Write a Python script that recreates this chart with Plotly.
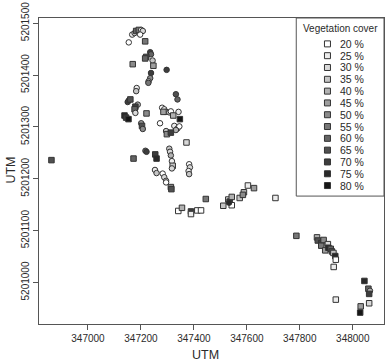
import plotly.graph_objects as go

# ---- data ----
easting = [346862, 347154, 347167, 347176, 347182, 347192, 347201, 347207, 347197, 347216,
           347169, 347235, 347238, 347220, 347216, 347244, 347247, 347238, 347235, 347229,
           347228, 347297, 347184, 347182, 347154, 347150, 347160, 347188, 347179, 347176,
           347179, 347138, 347144, 347153, 347221, 347201, 347204, 347207, 347272, 347280,
           347288, 347295, 347307, 347313, 347322, 347285, 347332, 347338, 347342, 347347,
           347326, 347338, 347345, 347332, 347295, 347298, 347313, 347372, 347217, 347221,
           347172, 347254, 347259, 347307, 347310, 347313, 347317, 347320, 347317, 347253,
           347259, 347282, 347288, 347295, 347382, 347385, 347380, 347382, 347295, 347313,
           347315, 347341, 347355, 347389, 347389, 347413, 347427, 347445, 347511, 347530,
           347535, 347543, 347543, 347533, 347573, 347589, 347585, 347604, 347627, 347708,
           347787, 347865, 347868, 347881, 347881, 347890, 347896, 347906, 347908, 347917,
           347921, 347927, 347934, 347936, 347928, 347936, 348044, 348059, 348065, 348062,
           348062, 348030, 348028]
northing = [5201236, 5201463, 5201478, 5201481, 5201485, 5201487, 5201487, 5201485, 5201478, 5201465,
            5201421, 5201444, 5201440, 5201435, 5201432, 5201428, 5201418, 5201404, 5201394, 5201388,
            5201385, 5201410, 5201375, 5201369, 5201351, 5201348, 5201353, 5201343, 5201339, 5201334,
            5201327, 5201322, 5201318, 5201315, 5201326, 5201307, 5201302, 5201296, 5201307, 5201337,
            5201334, 5201329, 5201328, 5201330, 5201322, 5201329, 5201363, 5201353, 5201329, 5201315,
            5201302, 5201297, 5201301, 5201294, 5201292, 5201286, 5201289, 5201270, 5201254, 5201252,
            5201239, 5201247, 5201239, 5201258, 5201252, 5201245, 5201234, 5201225, 5201220, 5201217,
            5201211, 5201210, 5201203, 5201196, 5201228, 5201222, 5201215, 5201209, 5201193, 5201184,
            5201180, 5201138, 5201144, 5201137, 5201132, 5201139, 5201139, 5201161, 5201148, 5201160,
            5201156, 5201165, 5201149, 5201154, 5201163, 5201174, 5201169, 5201187, 5201182, 5201163,
            5201090, 5201087, 5201081, 5201076, 5201071, 5201082, 5201062, 5201074, 5201067, 5201065,
            5201060, 5201057, 5201051, 5201044, 5201030, 5200967, 5201003, 5200988, 5200984, 5200978,
            5200960, 5200954, 5200942]
cover = [65, 20, 25, 30, 60, 55, 25, 30, 20, 55,
         50, 70, 60, 65, 60, 35, 45, 70, 50, 40,
         55, 70, 25, 35, 75, 70, 65, 40, 70, 60,
         30, 75, 70, 80, 50, 45, 65, 50, 20, 20,
         25, 30, 35, 20, 40, 45, 65, 60, 25, 80,
         25, 30, 20, 40, 35, 50, 70, 30, 55, 70,
         60, 70, 75, 35, 30, 40, 25, 35, 30, 25,
         35, 20, 30, 25, 20, 30, 25, 35, 20, 50,
         65, 20, 40, 70, 25, 20, 20, 55, 35, 30,
         70, 40, 20, 75, 35, 40, 50, 25, 45, 25,
         55, 40, 65, 70, 55, 50, 45, 30, 75, 60,
         65, 35, 75, 20, 25, 25, 75, 60, 40, 70,
         30, 45, 80]
# survey type: "A" plotted as circle, "B" as square
survey = list("BAAABBAAAB"
              "BAABBABAAA"
              "AAAAAABABB"
              "ABBBBABAAA"
              "AAAABBAAAB"
              "AAAAABBBAA"
              "BBBAAAABAA"
              "AAAAAAAAAB"
              "BBBBBBBBBB"
              "BBBABBBBBB"
              "BBBBBBBBBB"
              "BBBBBBBBAB"
              "BBB")
cover_levels = [20, 25, 30, 35, 40, 45, 50, 55, 60, 65, 70, 75, 80]
legend_title = "Vegetation cover"
x_title = "UTM"
y_title = "UTM"
x_ticks = [347000, 347200, 347400, 347600, 347800, 348000]
y_ticks = [5201000, 5201100, 5201200, 5201300, 5201400, 5201500]

# ---- styling helpers ----
def gray_for(level):
    i = cover_levels.index(level)
    v = round(255 - i * (255 - 22) / (len(cover_levels) - 1))
    return f"rgb({v},{v},{v})"

symbol_map = {"A": "circle", "B": "square"}
FONT = "Liberation Sans, Arial, sans-serif"
TXT = "#2a2a2a"
LINE = "#555555"

W, H = 387, 362
L, R, T, B = 39, 385, 13, 324  # plot area in pixels


def px_to_paper(px):
    return (px - L) / (R - L)


def py_to_paper(py):
    return (B - py) / (B - T)


fig = go.Figure()
fig.add_trace(go.Scatter(
    x=easting, y=northing, mode="markers", showlegend=False, hoverinfo="skip",
    marker=dict(size=5.5, symbol=[symbol_map[s] for s in survey],
                color=[gray_for(c) for c in cover],
                line=dict(color="#333333", width=1)),
))

# legend drawn on an overlay axis spanning the plot area (0..1 units)
leg_y = [py_to_paper(39.3 + 12.0 * i) for i in range(len(cover_levels))]
leg_x = [px_to_paper(328.3)] * len(cover_levels)
fig.add_trace(go.Scatter(
    x=leg_x, y=leg_y, xaxis="x2", yaxis="y2", mode="markers", showlegend=False,
    hoverinfo="skip",
    marker=dict(size=6, symbol="square", color=[gray_for(c) for c in cover_levels],
                line=dict(color="#333333", width=1)),
))

annotations = []
for lvl, yy in zip(cover_levels, leg_y):
    annotations.append(dict(x=px_to_paper(339), y=yy, xref="paper", yref="paper", text=f"{lvl} %",
                            showarrow=False, xanchor="left", yanchor="middle",
                            font=dict(family=FONT, size=10.5, color=TXT)))
annotations.append(dict(x=px_to_paper(341), y=py_to_paper(24), xref="paper", yref="paper",
                        text=legend_title, showarrow=False, xanchor="center", yanchor="middle",
                        font=dict(family=FONT, size=10, color=TXT)))
annotations.append(dict(x=px_to_paper(206), y=py_to_paper(355), xref="paper", yref="paper",
                        text=x_title, showarrow=False, xanchor="center", yanchor="middle",
                        font=dict(family=FONT, size=12.5, color=TXT)))
annotations.append(dict(x=px_to_paper(10), y=py_to_paper(168), xref="paper", yref="paper",
                        text=y_title, showarrow=False, textangle=-90, xanchor="center",
                        yanchor="middle", font=dict(family=FONT, size=12.5, color=TXT)))

fig.update_layout(
    width=W, height=H,
    margin=dict(l=L, r=W - R, t=T, b=H - B, pad=0),
    paper_bgcolor="white", plot_bgcolor="white",
    font=dict(family=FONT, size=10, color=TXT),
    xaxis=dict(range=[346815, 348118], tickvals=x_ticks, ticktext=[str(v) for v in x_ticks],
               ticks="outside", ticklen=5, tickcolor=LINE, showgrid=False, zeroline=False,
               showline=True, linecolor=LINE, linewidth=1, mirror=True,
               ticklabeloverflow="allow",
               tickfont=dict(family=FONT, size=10, color=TXT)),
    yaxis=dict(range=[5200920, 5201510], tickvals=y_ticks, ticktext=[str(v) for v in y_ticks],
               ticks="outside", ticklen=5, tickcolor=LINE, showgrid=False, zeroline=False,
               showline=True, linecolor=LINE, linewidth=1, mirror=True, tickangle=-90,
               ticklabeloverflow="allow",
               tickfont=dict(family=FONT, size=10, color=TXT)),
    xaxis2=dict(range=[0, 1], overlaying="x", visible=False, anchor="y2"),
    yaxis2=dict(range=[0, 1], overlaying="y", visible=False, anchor="x2"),
    shapes=[dict(type="rect", xref="paper", yref="paper",
                 x0=px_to_paper(297), x1=1, y0=py_to_paper(194), y1=1,
                 line=dict(color=LINE, width=1), fillcolor="white", layer="below")],
    annotations=annotations,
)

fig.write_html("out.html", config={"displayModeBar": False, "staticPlot": True},
               post_script="document.body.style.margin='0';document.body.style.overflow='hidden';")
